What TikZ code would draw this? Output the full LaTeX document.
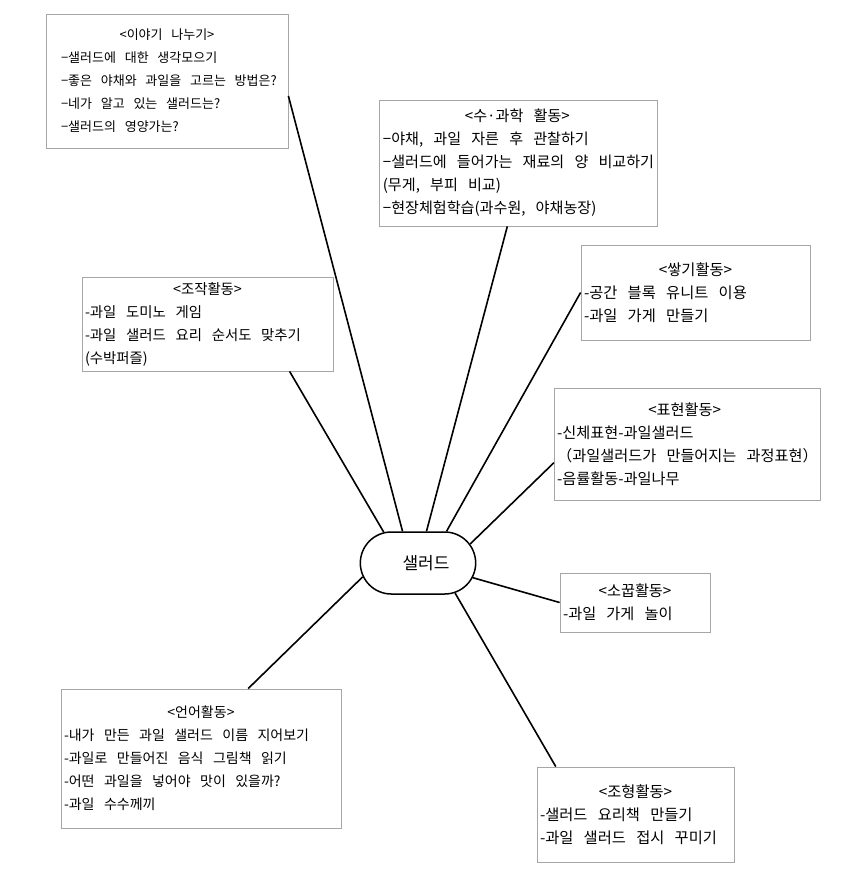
\documentclass[tikz,border=0pt]{standalone}
\usepackage{fontspec}
\setmainfont{Noto Sans CJK KR}[WordSpace=3]
\usetikzlibrary{shapes.misc}
\newcommand{\boxtitle}[2]{\makebox[#1]{#2}}

\begin{document}
\begin{tikzpicture}[x=1pt, y=-1pt,
  act/.style={rectangle, draw=gray!70, line width=0.8pt, align=left, inner xsep=3pt, inner ysep=0pt, font=\fontsize{#1}{23}\selectfont},
  hub/.style={rounded rectangle, draw, line width=1.5pt, minimum width=122pt, minimum height=62pt, font=\fontsize{17}{19}\selectfont},
  link/.style={line width=1.6pt}]
\useasboundingbox (0,0) rectangle (847,887);
\node (salad) [hub] at (418,563) {\hspace{16pt}샐러드};
\node (talk) [act=13, minimum width=242pt, minimum height=134pt] at (167,81) {\boxtitle{236pt}{<이야기 나누기>}\\
  \hspace*{12pt}−샐러드에 대한 생각모으기\\
  \hspace*{12pt}−좋은 야채와 과일을 고르는 방법은?\\
  \hspace*{12pt}−네가 알고 있는 샐러드는?\\
  \hspace*{12pt}−샐러드의 영양가는?};
\node (science) [act=15.1, minimum width=275pt, minimum height=126pt] at (518.5,163) {\boxtitle{269pt}{<수·과학 활동>}\\
  −야채, 과일 자른 후 관찰하기\\
  −샐러드에 들어가는 재료의 양 비교하기\\
  (무게, 부피 비교)\\
  −현장체험학습(과수원, 야채농장)};
\node (blocks) [act=15.3, minimum width=229pt, minimum height=95pt] at (695.5,292.5) {\boxtitle{223pt}{<쌓기활동>}\\
  -공간 블록 유니트 이용\\
  -과일 가게 만들기};
\node (manip) [act=14.4, minimum width=251pt, minimum height=94pt] at (207.5,324) {\boxtitle{245pt}{<조작활동>}\\
  -과일 도미노 게임\\
  -과일 샐러드 요리 순서도 맞추기\\
  (수박퍼즐)};
\node (express) [act=15.2, minimum width=261pt, minimum height=112pt] at (687.5,444) {\boxtitle{255pt}{<표현활동>}\\
  -신체표현-과일샐러드\\
  （과일샐러드가 만들어지는 과정표현）\\
  -음률활동-과일나무};
\node (play) [act=15.2, minimum width=150pt, minimum height=59pt] at (635,602.5) {\boxtitle{144pt}{<소꿉활동>}\\
  -과일 가게 놀이};
\node (lang) [act=14, minimum width=280pt, minimum height=139pt] at (201,758.5) {\boxtitle{274pt}{<언어활동>}\\
  -내가 만든 과일 샐러드 이름 지어보기\\
  -과일로 만들어진 음식 그림책 읽기\\
  -어떤 과일을 넣어야 맛이 있을까?\\
  -과일 수수께끼};
\node (art) [act=15.3, minimum width=197pt, minimum height=95pt] at (635.5,814.5) {\boxtitle{191pt}{<조형활동>}\\
  -샐러드 요리책 만들기\\
  -과일 샐러드 접시 꾸미기};
\draw[link] (salad.116) -- (talk.-7.5);
\draw[link] (salad.75.5) -- (science.-100);
\draw[link] (salad.48) -- (blocks.west);
\draw[link] (salad.138.5) -- (manip.-30);
\draw[link] (salad.20) -- (express.188);
\draw[link] (salad.-15) -- (play.west);
\draw[link] (salad.194) -- (lang.56);
\draw[link] (salad.-39) -- (art.149);
\end{tikzpicture}
\end{document}
